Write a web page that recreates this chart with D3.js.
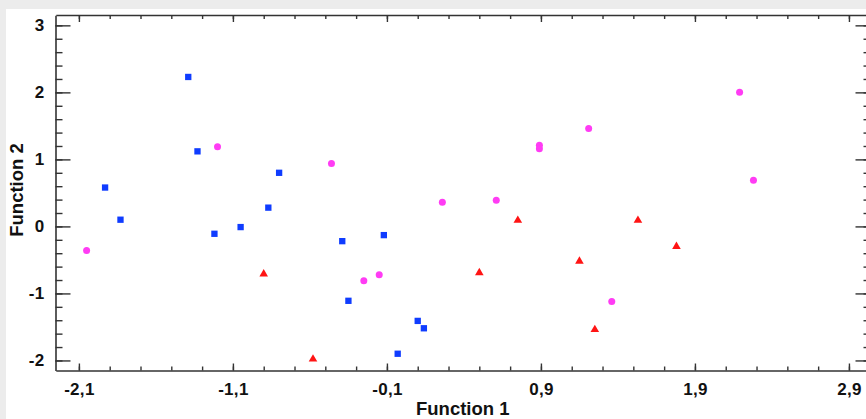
<!DOCTYPE html>
<html>
<head>
<meta charset="utf-8">
<script src="https://cdn.jsdelivr.net/npm/d3@7"></script>
<style>
  html, body { margin: 0; padding: 0; background: #ececec; }
  svg { display: block; }
  text { font-family: "Liberation Sans", Arial, Helvetica, sans-serif; font-weight: bold; fill: #111; }
</style>
</head>
<body>
<svg id="chart" width="866" height="419"></svg>
<script>
// ---- data ----
const group1X = [-1.39, -1.33, -1.93, -1.83, -1.22, -1.05, -0.87, -0.80, -0.39, -0.12, -0.35, 0.10, 0.14, -0.03];
const group1Y = [ 2.23,  1.12,  0.58,  0.10, -0.11, -0.01,  0.28,  0.80, -0.22, -0.13, -1.11, -1.41, -1.52, -1.90];

const group2X = [-2.05, -1.20, -0.46, 0.26, 0.61, 0.89, 0.89, 1.21, 2.19, 2.28, 1.36, -0.25, -0.15];
const group2Y = [-0.36,  1.19,  0.94, 0.36, 0.39, 1.21, 1.16, 1.46, 2.00, 0.69, -1.12, -0.81, -0.72];

const group3X = [-0.90, -0.58, 0.50, 0.75, 1.15, 1.25, 1.53, 1.78];
const group3Y = [-0.71, -1.98, -0.69, 0.09, -0.52, -1.54, 0.09, -0.30];

const xTickValues = [-2.1, -1.1, -0.1, 0.9, 1.9, 2.9];
const xTickLabels = ["-2,1", "-1,1", "-0,1", "0,9", "1,9", "2,9"];
const yTickValues = [-2, -1, 0, 1, 2, 3];
const yTickLabels = ["-2", "-1", "0", "1", "2", "3"];

const xTitle = "Function 1";
const yTitle = "Function 2";

// ---- layout ----
const svg = d3.select("#chart");
const L = 55.5, R = 870.5, T = 15, B = 370.5;

svg.append("rect").attr("x", 6).attr("y", 9).attr("width", 866 - 6).attr("height", 419 - 9).attr("fill", "#ffffff");

const x = d3.scaleLinear().domain([-2.25, 3.04]).range([L + 0.3, R]);
const y = d3.scaleLinear().domain([-2.15, 3.15]).range([B, T + 0.3]);

const xMinor = d3.range(-2.1, 3.0001, 0.2).map(v => +v.toFixed(2)).filter(v => x(v) > L + 1 && x(v) < R - 1);
const yMinor = d3.range(-2.0, 3.0001, 0.2).map(v => +v.toFixed(2));

const axisColor = "#333";
const fmtX = d => xTickLabels[xTickValues.indexOf(d)];
const fmtY = d => yTickLabels[yTickValues.indexOf(d)];

function styleAxis(g) {
  g.selectAll("path.domain").attr("stroke", axisColor).attr("stroke-width", 1.6);
  g.selectAll(".tick line").attr("stroke", axisColor).attr("stroke-width", 1.4);
}
function styleLabels(sel) {
  sel.attr("font-size", 17).attr("fill", "#111")
    .style("letter-spacing", "0.3px")
    .attr("font-family", "Liberation Sans, Arial, sans-serif").attr("font-weight", "bold");
}

// bottom axis: major + minor ticks pointing up
const gB = svg.append("g").attr("transform", `translate(0,${B})`);
gB.call(d3.axisBottom(x).tickValues(xMinor).tickSize(-4).tickSizeOuter(0).tickFormat(""));
gB.call(styleAxis);
const gB2 = svg.append("g").attr("transform", `translate(0,${B})`);
gB2.call(d3.axisBottom(x).tickValues(xTickValues).tickSize(-7).tickSizeOuter(0).tickFormat(fmtX));
gB2.select("path.domain").remove();
gB2.call(styleAxis);
gB2.selectAll(".tick text").attr("dy", 0).attr("y", 24).call(styleLabels);

// top axis: ticks pointing down
const gT = svg.append("g").attr("transform", `translate(0,${T})`);
gT.call(d3.axisTop(x).tickValues(xMinor).tickSize(-4).tickSizeOuter(0).tickFormat(""));
gT.call(styleAxis);
const gT2 = svg.append("g").attr("transform", `translate(0,${T})`);
gT2.call(d3.axisTop(x).tickValues(xTickValues).tickSize(-7).tickSizeOuter(0).tickFormat(""));
gT2.select("path.domain").remove();
gT2.call(styleAxis);

// left axis: ticks pointing right
const gL = svg.append("g").attr("transform", `translate(${L},0)`);
gL.call(d3.axisLeft(y).tickValues(yMinor).tickSize(-7).tickSizeOuter(0).tickFormat(""));
gL.call(styleAxis);
const gL2 = svg.append("g").attr("transform", `translate(${L},0)`);
gL2.call(d3.axisLeft(y).tickValues(yTickValues).tickSize(-15).tickSizeOuter(0).tickFormat(fmtY));
gL2.select("path.domain").remove();
gL2.call(styleAxis);
gL2.selectAll(".tick text").attr("x", -11).call(styleLabels);

// right axis: ticks pointing left
const gR = svg.append("g").attr("transform", `translate(${R},0)`);
gR.call(d3.axisRight(y).tickValues(yMinor).tickSize(-7).tickSizeOuter(0).tickFormat(""));
gR.call(styleAxis);
const gR2 = svg.append("g").attr("transform", `translate(${R},0)`);
gR2.call(d3.axisRight(y).tickValues(yTickValues).tickSize(-15).tickSizeOuter(0).tickFormat(""));
gR2.select("path.domain").remove();
gR2.call(styleAxis);

// ---- points ----
const plot = svg.append("g");
const sq = d3.symbol().type(d3.symbolSquare).size(40);
const tri = d3.symbol().type(d3.symbolTriangle).size(32);

plot.selectAll(".g3").data(group3X.map((v, i) => [v, group3Y[i]])).join("path")
  .attr("class", "g3").attr("d", tri)
  .attr("transform", d => `translate(${x(d[0])},${y(d[1])})`)
  .attr("fill", "#ff1414");

plot.selectAll(".g2").data(group2X.map((v, i) => [v, group2Y[i]])).join("circle")
  .attr("class", "g2").attr("cx", d => x(d[0])).attr("cy", d => y(d[1])).attr("r", 3.5)
  .attr("fill", "#ff3cf4");

plot.selectAll(".g1").data(group1X.map((v, i) => [v, group1Y[i]])).join("path")
  .attr("class", "g1").attr("d", sq)
  .attr("transform", d => `translate(${x(d[0])},${y(d[1])})`)
  .attr("fill", "#0f3cff");

// ---- titles ----
svg.append("text").attr("x", (L + 866) / 2 + 2).attr("y", 414.5).attr("text-anchor", "middle")
  .attr("font-size", 18.5).text(xTitle);
svg.append("text").attr("transform", `translate(23,190) rotate(-90)`).attr("text-anchor", "middle")
  .attr("font-size", 18.5).text(yTitle);
</script>
</body>
</html>
